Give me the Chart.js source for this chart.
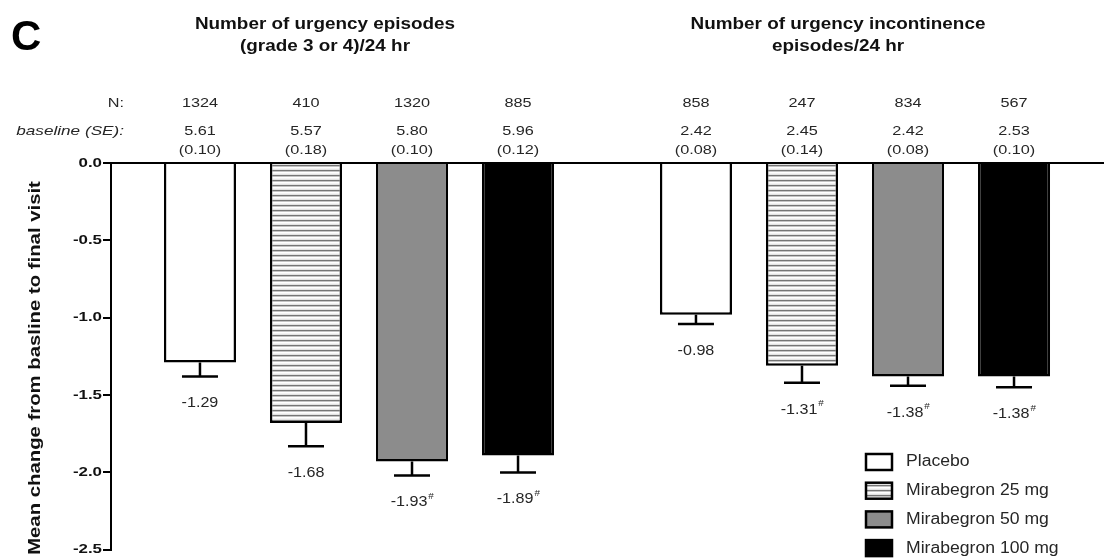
<!DOCTYPE html>
<html>
<head>
<meta charset="utf-8">
<script src="https://cdn.jsdelivr.net/npm/chart.js@4.4.1/dist/chart.umd.min.js"></script>
<style>
  html, body { margin: 0; padding: 0; background: #fff; }
  #wrap { width: 1110px; height: 559px; position: relative; }
</style>
</head>
<body>
<div id="wrap"><canvas id="chart"></canvas></div>
<script>
// ---- data ----
const groups = ['Urgency episodes (grade 3 or 4)', 'Urgency incontinence episodes'];
const groupTitles = [
  ['Number of urgency episodes', '(grade 3 or 4)/24 hr'],
  ['Number of urgency incontinence', 'episodes/24 hr']
];
const treatments = ['Placebo', 'Mirabegron 25 mg', 'Mirabegron 50 mg', 'Mirabegron 100 mg'];

const meanPlacebo = [-1.29, -0.98];
const mean25 = [-1.68, -1.31];
const mean50 = [-1.93, -1.38];
const mean100 = [-1.89, -1.38];

const sePlacebo = [0.09, 0.06];
const se25 = [0.15, 0.11];
const se50 = [0.09, 0.06];
const se100 = [0.11, 0.07];

const sigPlacebo = [false, false];
const sig25 = [false, true];
const sig50 = [true, true];
const sig100 = [true, true];

const nPlacebo = [1324, 858];
const n25 = [410, 247];
const n50 = [1320, 834];
const n100 = [885, 567];

const basePlacebo = ['5.61', '2.42'];
const base25 = ['5.57', '2.45'];
const base50 = ['5.80', '2.42'];
const base100 = ['5.96', '2.53'];

const baseSePlacebo = ['0.10', '0.08'];
const baseSe25 = ['0.18', '0.14'];
const baseSe50 = ['0.10', '0.08'];
const baseSe100 = ['0.12', '0.10'];

const yTicks = [0, -0.5, -1.0, -1.5, -2.0, -2.5];

const means = [meanPlacebo, mean25, mean50, mean100];
const ses = [sePlacebo, se25, se50, se100];
const sigs = [sigPlacebo, sig25, sig50, sig100];
const ns = [nPlacebo, n25, n50, n100];
const bases = [basePlacebo, base25, base50, base100];
const baseSes = [baseSePlacebo, baseSe25, baseSe50, baseSe100];

// ---- styles ----
const FONT = "'Liberation Sans', Arial, sans-serif";
const TEXT = '#262626';

function makeHatch() {
  const c = document.createElement('canvas');
  c.width = 8; c.height = 5;
  const g = c.getContext('2d');
  const rows = ['#757575', '#c4c4c4', '#ffffff', '#f4f4f4', '#e2e2e2'];
  rows.forEach((col, i) => { g.fillStyle = col; g.fillRect(0, i, 8, 1); });
  return g.createPattern(c, 'repeat');
}
const fills = ['#ffffff', makeHatch(), '#8c8c8c', '#000000'];

// the figure's lettering is a bit wider than plain Arial, so stretch it
function sText(ctx, str, x, y, sx, align) {
  ctx.save();
  ctx.translate(x, y);
  ctx.scale(sx, 1);
  ctx.textAlign = align || 'center';
  ctx.fillText(str, 0, 0);
  ctx.restore();
}

// error bars, value labels, top annotations, titles, legend
const annotate = {
  id: 'annotate',
  afterDatasetsDraw(chart) {
    const { ctx, scales: { y } } = chart;
    ctx.save();
    ctx.strokeStyle = '#000';
    ctx.lineWidth = 2.5;
    ctx.textBaseline = 'middle';

    chart.data.datasets.forEach((ds, di) => {
      const meta = chart.getDatasetMeta(di);
      meta.data.forEach((bar, gi) => {
        const m = means[di][gi];
        const yEnd = y.getPixelForValue(m - ses[di][gi]);
        // error bar
        ctx.beginPath();
        ctx.moveTo(bar.x, bar.y);
        ctx.lineTo(bar.x, yEnd);
        ctx.moveTo(bar.x - 18, yEnd);
        ctx.lineTo(bar.x + 18, yEnd);
        ctx.stroke();

        // value label
        ctx.fillStyle = TEXT;
        ctx.font = `14px ${FONT}`;
        const txt = m.toFixed(2);
        const ly = yEnd + 27;
        if (sigs[di][gi]) {
          const w = ctx.measureText(txt).width * 1.15;
          sText(ctx, txt, bar.x - w / 2 - 3, ly, 1.15, 'left');
          ctx.font = `9px ${FONT}`;
          sText(ctx, '#', bar.x + w / 2 - 2, ly - 6, 1.1, 'left');
        } else {
          sText(ctx, txt, bar.x, ly, 1.15);
        }

        // N and baseline (SE) above the zero line
        ctx.font = `13px ${FONT}`;
        sText(ctx, String(ns[di][gi]), bar.x, 103, 1.25);
        sText(ctx, bases[di][gi], bar.x, 131, 1.25);
        sText(ctx, `(${baseSes[di][gi]})`, bar.x, 150, 1.25);
      });
    });

    // row labels
    ctx.fillStyle = TEXT;
    ctx.font = `13px ${FONT}`;
    sText(ctx, 'N:', 124, 103, 1.25, 'right');
    ctx.font = `italic 13px ${FONT}`;
    sText(ctx, 'baseline (SE):', 124, 131, 1.32, 'right');

    // y tick labels
    ctx.fillStyle = '#111';
    ctx.font = `bold 13px ${FONT}`;
    yTicks.forEach(v => sText(ctx, v.toFixed(1), 102, y.getPixelForValue(v), 1.3, 'right'));

    // group titles
    ctx.fillStyle = '#111';
    ctx.font = `bold 16px ${FONT}`;
    const titleX = [325, 838];
    groupTitles.forEach((lines, i) => {
      lines.forEach((ln, j) => sText(ctx, ln, titleX[i], 25 + j * 22, 1.18));
    });

    // panel letter
    ctx.font = `bold 42px ${FONT}`;
    ctx.fillStyle = '#000';
    sText(ctx, 'C', 11, 38, 1.0, 'left');

    // y axis title
    ctx.save();
    ctx.translate(36, 368);
    ctx.rotate(-Math.PI / 2);
    ctx.font = `bold 16px ${FONT}`;
    ctx.fillStyle = '#111';
    sText(ctx, 'Mean change from basline to final visit', 0, 0, 1.27);
    ctx.restore();

    // legend
    ctx.font = `16px ${FONT}`;
    chart.data.datasets.forEach((ds, i) => {
      const cy = 462 + i * 28.7;
      ctx.fillStyle = ds.backgroundColor;
      ctx.fillRect(866, cy - 8, 26, 16);
      ctx.lineWidth = 2.5;
      ctx.strokeRect(866, cy - 8, 26, 16);
      ctx.fillStyle = TEXT;
      sText(ctx, ds.label, 906, cy, 1.1, 'left');
    });
    ctx.restore();
  }
};

new Chart(document.getElementById('chart'), {
  type: 'bar',
  data: {
    labels: groups,
    datasets: treatments.map((t, i) => ({
      label: t,
      data: means[i],
      backgroundColor: fills[i],
      borderColor: '#000',
      borderWidth: 2.5,
      borderSkipped: 'start',
      categoryPercentage: 0.855,
      barPercentage: 0.68
    }))
  },
  options: {
    responsive: true,
    maintainAspectRatio: false,
    animation: false,
    layout: { padding: { top: 163, right: 7, bottom: 6, left: 0 } },
    plugins: { legend: { display: false }, tooltip: { enabled: false } },
    scales: {
      x: {
        position: 'top',
        grid: { display: false },
        ticks: { display: false },
        border: { display: true, color: '#000', width: 2 },
        afterFit: s => { s.height = 0; }
      },
      y: {
        min: -2.5,
        max: 0,
        afterBuildTicks: s => { s.ticks = yTicks.map(v => ({ value: v })); },
        ticks: { callback: () => '', padding: 2 },
        grid: { drawOnChartArea: false, drawTicks: true, tickLength: 8, color: '#000', lineWidth: 2 },
        border: { display: true, color: '#000', width: 2 },
        afterFit: s => { s.width = 111; }
      }
    }
  },
  plugins: [annotate]
});
</script>
</body>
</html>
